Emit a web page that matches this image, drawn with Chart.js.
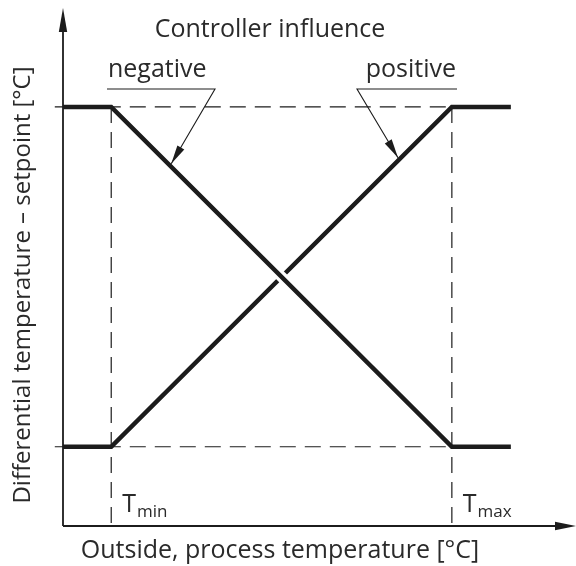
<!DOCTYPE html>
<html>
<head>
<meta charset="utf-8">
<script src="https://cdn.jsdelivr.net/npm/chart.js@4"></script>
<style>
  html, body { margin: 0; padding: 0; background: #fff; }
  #wrap { width: 576px; height: 566px; }
</style>
</head>
<body>
<div id="wrap"><canvas id="chart"></canvas></div>
<script>
// Controller characteristic, arbitrary units on both axes
const xPoints = [0, 9.4, 75.8, 87.3];          // origin, Tmin, Tmax, end of curve
const negativeCurve = [80.9, 80.9, 15.3, 15.3];
const positiveCurve = [15.3, 15.3, 80.9, 80.9];
const tMin = 9.4;
const tMax = 75.8;
const levelHigh = 80.9;
const levelLow = 15.3;
const guideStart = -1.6;
const tLabels = ['min', 'max'];

const INK = '#1c1c1c';
const FONT = '"Open Sans", "Noto Sans", sans-serif';

const toXY = (ys) => xPoints.map((x, i) => ({ x: x, y: ys[i] }));

const guide = (pts) => ({
  data: pts,
  showLine: true,
  borderColor: INK,
  borderWidth: 1.2,
  borderDash: [16, 9],
  pointRadius: 0,
  clip: false
});

// white gap where the negative curve crosses the positive one
const crossingGap = {
  id: 'crossingGap',
  beforeDatasetDraw(chart, args) {
    if (args.index !== 0) return;
    const neg = chart.getDatasetMeta(0).data;
    const pos = chart.getDatasetMeta(1).data;
    const a = neg[1], b = neg[2], c = pos[1], d = pos[2];
    const den = (a.x - b.x) * (c.y - d.y) - (a.y - b.y) * (c.x - d.x);
    const t = ((a.x - c.x) * (c.y - d.y) - (a.y - c.y) * (c.x - d.x)) / den;
    const cx = a.x + t * (b.x - a.x), cy = a.y + t * (b.y - a.y);
    const ctx = chart.ctx;
    ctx.save();
    ctx.beginPath();
    ctx.rect(cx - 14, cy - 14, 28, 28);
    ctx.clip();
    ctx.beginPath();
    ctx.moveTo(a.x, a.y);
    ctx.lineTo(b.x, b.y);
    ctx.strokeStyle = '#fff';
    ctx.lineWidth = 11;
    ctx.stroke();
    ctx.restore();
  }
};

function arrowHead(ctx, x0, y0, x1, y1, len, half) {
  const ang = Math.atan2(y1 - y0, x1 - x0);
  ctx.beginPath();
  ctx.moveTo(x1, y1);
  ctx.lineTo(x1 - len * Math.cos(ang) + half * Math.sin(ang), y1 - len * Math.sin(ang) - half * Math.cos(ang));
  ctx.lineTo(x1 - len * Math.cos(ang) - half * Math.sin(ang), y1 - len * Math.sin(ang) + half * Math.cos(ang));
  ctx.closePath();
  ctx.fill();
}

// point on a drawn curve at a given x value
function curvePoint(chart, index, xv) {
  const pts = chart.getDatasetMeta(index).data;
  const px = chart.scales.x.getPixelForValue(xv);
  for (let i = 0; i < pts.length - 1; i++) {
    if (px >= pts[i].x && px <= pts[i + 1].x) {
      const f = (px - pts[i].x) / (pts[i + 1].x - pts[i].x);
      return { x: px, y: pts[i].y + f * (pts[i + 1].y - pts[i].y) };
    }
  }
  return { x: px, y: pts[0].y };
}

const axesAndText = {
  id: 'axesAndText',
  afterDatasetsDraw(chart) {
    const { ctx, scales: { x, y } } = chart;
    const x0 = x.getPixelForValue(0), xEnd = x.getPixelForValue(x.max);
    const y0 = y.getPixelForValue(0), yEnd = y.getPixelForValue(y.max);
    ctx.save();
    ctx.strokeStyle = INK;
    ctx.fillStyle = INK;
    ctx.lineWidth = 1.8;

    // axes with arrows
    ctx.beginPath();
    ctx.moveTo(x0, y0);
    ctx.lineTo(xEnd - 10, y0);
    ctx.moveTo(x0, y0);
    ctx.lineTo(x0, yEnd + 10);
    ctx.stroke();
    arrowHead(ctx, x0, y0, xEnd, y0, 21, 4.2);
    arrowHead(ctx, x0, y0, x0, yEnd, 24, 4.2);

    // controller influence pointers
    ctx.lineWidth = 1.1;
    const negTip = curvePoint(chart, 0, 21.1);
    const posTip = curvePoint(chart, 1, 65.3);
    ctx.beginPath();
    ctx.moveTo(107, 89); ctx.lineTo(215, 89); ctx.lineTo(negTip.x, negTip.y - 3);
    ctx.moveTo(457, 89); ctx.lineTo(357, 89); ctx.lineTo(posTip.x, posTip.y - 3);
    ctx.stroke();
    arrowHead(ctx, 215, 89, negTip.x, negTip.y - 3, 19, 4);
    arrowHead(ctx, 357, 89, posTip.x, posTip.y - 3, 19, 4);

    // texts
    ctx.fillStyle = '#2a2a2a';
    ctx.font = '25px ' + FONT;
    ctx.textBaseline = 'alphabetic';
    ctx.textAlign = 'center';
    ctx.fillText('Controller influence', 270, 37);
    ctx.fillText('Outside, process temperature [°C]', 280, 558);
    ctx.textAlign = 'left';
    ctx.fillText('negative', 108, 77);
    ctx.textAlign = 'right';
    ctx.fillText('positive', 456, 77);

    // Tmin / Tmax
    ctx.textAlign = 'left';
    [tMin, tMax].forEach((tv, i) => {
      const px = x.getPixelForValue(tv) + 11;
      ctx.font = '25px ' + FONT;
      ctx.fillText('T', px, 512);
      const w = ctx.measureText('T').width;
      ctx.font = '17px ' + FONT;
      ctx.fillText(tLabels[i], px + w + 1, 517);
    });

    // vertical axis title
    ctx.translate(30, 285);
    ctx.rotate(-Math.PI / 2);
    ctx.textAlign = 'center';
    ctx.font = '24px ' + FONT;
    ctx.fillText('Differential temperature – setpoint [°C]', 0, 0);
    ctx.restore();
  }
};

new Chart(document.getElementById('chart'), {
  type: 'scatter',
  data: {
    datasets: [
      { data: toXY(negativeCurve), showLine: true, borderColor: INK, borderWidth: 4.5, pointRadius: 0, clip: false },
      { data: toXY(positiveCurve), showLine: true, borderColor: INK, borderWidth: 4.5, pointRadius: 0, clip: false },
      guide([{ x: guideStart, y: levelHigh }, { x: tMax, y: levelHigh }]),
      guide([{ x: guideStart, y: levelLow }, { x: tMax, y: levelLow }]),
      guide([{ x: tMin, y: levelHigh }, { x: tMin, y: 0 }]),
      guide([{ x: tMax, y: levelHigh }, { x: tMax, y: 0 }])
    ]
  },
  options: {
    responsive: true,
    maintainAspectRatio: false,
    animation: false,
    layout: { padding: { left: 63, right: 0, top: 8, bottom: 40 } },
    scales: {
      x: { type: 'linear', min: 0, max: 100, display: false },
      y: { type: 'linear', min: 0, max: 100, display: false }
    },
    plugins: { legend: { display: false }, tooltip: { enabled: false } }
  },
  plugins: [crossingGap, axesAndText]
});
</script>
</body>
</html>
